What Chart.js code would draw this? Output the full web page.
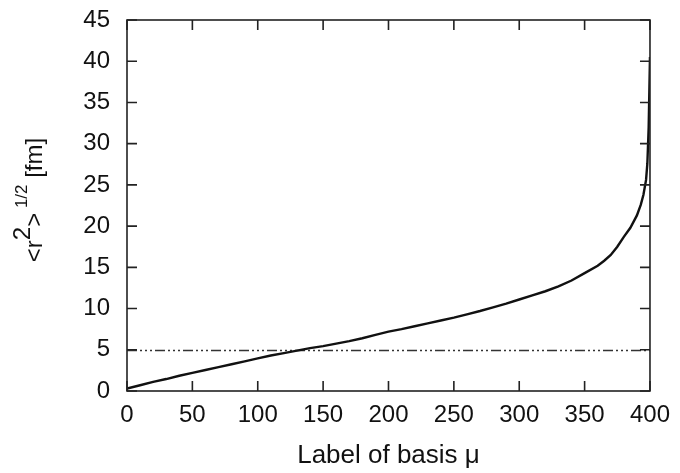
<!DOCTYPE html>
<html>
<head>
<meta charset="utf-8">
<script src="https://cdn.jsdelivr.net/npm/chart.js@4.4.0/dist/chart.umd.min.js"></script>
<style>
    html, body { margin: 0; padding: 0; background: #fff; }
    #wrap { width: 680px; height: 473px; }
</style>
</head>
<body>
<div id="wrap"><canvas id="rmsChart"></canvas></div>
<script>
// Basis label (x) and rms radius in fm (y)
const basisLabel = [0, 10, 20, 30, 40, 50, 60, 70, 80, 90, 100, 110, 120, 130, 140, 150,
    160, 170, 180, 190, 200, 210, 220, 230, 240, 250, 260, 270, 280, 290, 300, 310,
    320, 330, 340, 350, 360, 365, 370, 375, 380, 385, 390, 393, 395, 397, 398, 399, 400];
const rmsRadius = [0.3, 0.7, 1.1, 1.45, 1.85, 2.2, 2.55, 2.9, 3.25, 3.6, 3.95, 4.3, 4.6, 4.9, 5.2, 5.45,
    5.75, 6.05, 6.4, 6.8, 7.2, 7.5, 7.85, 8.2, 8.55, 8.9, 9.3, 9.7, 10.15, 10.6, 11.1, 11.6,
    12.1, 12.7, 13.4, 14.3, 15.2, 15.8, 16.5, 17.5, 18.7, 19.8, 21.3, 22.6, 23.8, 25.6, 27.6, 32.0, 40.5];

// Horizontal reference line
const cutoffRange = [0, 400];
const cutoffRadius = 4.9;

// Axis ticks
const xTicks = [0, 50, 100, 150, 200, 250, 300, 350, 400];
const yTicks = [0, 5, 10, 15, 20, 25, 30, 35, 40, 45];

const FONT = "'Liberation Sans', Arial, sans-serif";
const TICK_LEN = 10;

// gnuplot-style frame with inward ticks on all four sides
const frameTicks = {
    id: "frameTicks",
    afterDatasetsDraw(chart) {
        const { ctx, chartArea: a, scales: { x, y } } = chart;
        ctx.save();
        ctx.strokeStyle = "#222";
        ctx.lineWidth = 1.6;
        ctx.strokeRect(a.left, a.top, a.right - a.left, a.bottom - a.top);
        ctx.beginPath();
        x.ticks.forEach((t, i) => {
            const px = x.getPixelForTick(i);
            ctx.moveTo(px, a.bottom);
            ctx.lineTo(px, a.bottom - TICK_LEN);
            ctx.moveTo(px, a.top);
            ctx.lineTo(px, a.top + TICK_LEN);
        });
        y.ticks.forEach((t, i) => {
            const py = y.getPixelForTick(i);
            ctx.moveTo(a.left, py);
            ctx.lineTo(a.left + TICK_LEN, py);
            ctx.moveTo(a.right, py);
            ctx.lineTo(a.right - TICK_LEN, py);
        });
        ctx.stroke();
        ctx.restore();
    },
};

// Rotated y title with superscripts: <r^2>^{1/2} [fm]
const yTitle = {
    id: "yTitle",
    afterDraw(chart) {
        const { ctx } = chart;
        const parts = [
            { text: "<r", size: 24, rise: 0 },
            { text: "2", size: 24, rise: 12 },
            { text: ">", size: 24, rise: 0 },
            { text: " 1/2", size: 17, rise: 15 },
            { text: " [fm]", size: 24, rise: 0 },
        ];
        ctx.save();
        let total = 0;
        parts.forEach((p) => {
            ctx.font = `${p.size}px ${FONT}`;
            p.w = ctx.measureText(p.text).width;
            total += p.w;
        });
        ctx.translate(42, 200);
        ctx.rotate(-Math.PI / 2);
        ctx.fillStyle = "#111";
        ctx.textBaseline = "alphabetic";
        let cx = -total / 2;
        parts.forEach((p) => {
            ctx.font = `${p.size}px ${FONT}`;
            ctx.fillText(p.text, cx, -p.rise);
            cx += p.w;
        });
        ctx.restore();
    },
};

const ctx = document.getElementById("rmsChart");
new Chart(ctx, {
    type: "scatter",
    data: {
        datasets: [
            {
                label: "rms radius",
                data: basisLabel.map((m, i) => ({ x: m, y: rmsRadius[i] })),
                showLine: true,
                borderColor: "#111",
                borderWidth: 2.4,
                pointRadius: 0,
                tension: 0,
            },
            {
                label: "cutoff",
                data: cutoffRange.map((m) => ({ x: m, y: cutoffRadius })),
                showLine: true,
                borderColor: "#333",
                borderWidth: 1.5,
                borderDash: [10, 3, 2, 3, 2, 3, 2, 3],
                pointRadius: 0,
            },
        ],
    },
    options: {
        responsive: true,
        maintainAspectRatio: false,
        animation: false,
        layout: {
            padding: { top: 20, right: 28, left: 0, bottom: 0 },
        },
        plugins: {
            legend: { display: false },
            tooltip: { enabled: false },
        },
        scales: {
            x: {
                type: "linear",
                min: 0,
                max: 400,
                afterBuildTicks: (s) => { s.ticks = xTicks.map((v) => ({ value: v })); },
                afterFit: (s) => { s.height = 82; },
                grid: { display: false, drawTicks: false },
                border: { display: false },
                ticks: {
                    color: "#111",
                    padding: 10,
                    font: { family: FONT, size: 24 },
                },
                title: {
                    display: true,
                    text: "Label of basis μ",
                    color: "#111",
                    font: { family: FONT, size: 26 },
                    padding: { top: 2, bottom: 2 },
                },
            },
            y: {
                min: 0,
                max: 45,
                afterBuildTicks: (s) => { s.ticks = yTicks.map((v) => ({ value: v })); },
                afterFit: (s) => {
                    s.width = 127;
                    s.paddingTop = 0;
                    s.paddingBottom = 0;
                },
                grid: { display: false, drawTicks: false },
                border: { display: false },
                ticks: {
                    color: "#111",
                    padding: 17,
                    font: { family: FONT, size: 24 },
                },
            },
        },
    },
    plugins: [frameTicks, yTitle],
});
</script>
</body>
</html>
